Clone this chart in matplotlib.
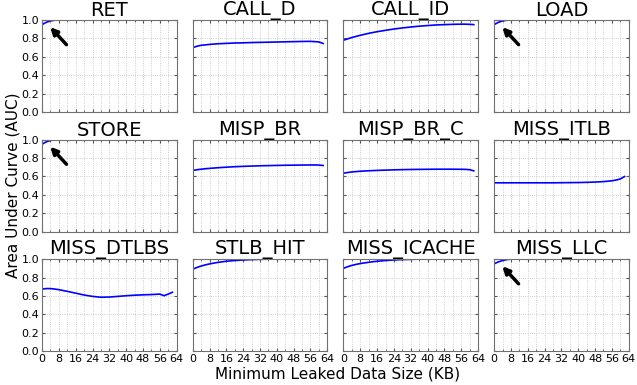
import matplotlib.pyplot as plt

x_kb = [0, 2, 4, 6, 8, 12, 16, 20, 24, 28, 32, 36, 40, 44, 48, 52, 56, 58, 60, 62]

titles = ['RET', 'CALL_D', 'CALL_ID', 'LOAD',
          'STORE', 'MISP_BR', 'MISP_BR_C', 'MISS_ITLB',
          'MISS_DTLBS', 'STLB_HIT', 'MISS_ICACHE', 'MISS_LLC']

ret = [0.95, 0.975, 0.99, 0.998, 1.0, 1.0, 1.0, 1.0, 1.0, 1.0, 1.0, 1.0, 1.0, 1.0, 1.0, 1.0, 1.0, 1.0, 1.0, 1.0]
call_d = [0.70, 0.715, 0.725, 0.73, 0.735, 0.742, 0.746, 0.75, 0.752, 0.755, 0.757, 0.759, 0.761, 0.763, 0.765, 0.767, 0.768, 0.765, 0.762, 0.745]
call_id = [0.78, 0.795, 0.81, 0.822, 0.834, 0.855, 0.873, 0.888, 0.902, 0.914, 0.924, 0.933, 0.94, 0.946, 0.95, 0.953, 0.955, 0.955, 0.953, 0.95]
load = [0.95, 0.975, 0.99, 0.998, 1.0, 1.0, 1.0, 1.0, 1.0, 1.0, 1.0, 1.0, 1.0, 1.0, 1.0, 1.0, 1.0, 1.0, 1.0, 1.0]
store = [0.95, 0.975, 0.99, 0.998, 1.0, 1.0, 1.0, 1.0, 1.0, 1.0, 1.0, 1.0, 1.0, 1.0, 1.0, 1.0, 1.0, 1.0, 1.0, 1.0]
misp_br = [0.665, 0.672, 0.678, 0.683, 0.687, 0.694, 0.70, 0.705, 0.709, 0.712, 0.715, 0.717, 0.719, 0.721, 0.722, 0.723, 0.724, 0.724, 0.723, 0.718]
misp_br_c = [0.635, 0.642, 0.648, 0.652, 0.656, 0.661, 0.665, 0.668, 0.671, 0.673, 0.675, 0.676, 0.677, 0.678, 0.678, 0.678, 0.677, 0.676, 0.673, 0.66]
miss_itlb = [0.53, 0.53, 0.53, 0.53, 0.53, 0.53, 0.53, 0.53, 0.53, 0.53, 0.531, 0.532, 0.533, 0.535, 0.538, 0.543, 0.552, 0.56, 0.572, 0.598]
miss_dtlbs = [0.675, 0.68, 0.68, 0.675, 0.668, 0.65, 0.63, 0.61, 0.595, 0.586, 0.588, 0.595, 0.602, 0.608, 0.612, 0.615, 0.62, 0.603, 0.62, 0.64]
stlb_hit = [0.89, 0.91, 0.925, 0.938, 0.948, 0.965, 0.977, 0.985, 0.991, 0.995, 0.998, 1.0, 1.0, 1.0, 1.0, 1.0, 1.0, 1.0, 1.0, 1.0]
miss_icache = [0.90, 0.918, 0.932, 0.943, 0.952, 0.966, 0.977, 0.985, 0.991, 0.995, 0.998, 1.0, 1.0, 1.0, 1.0, 1.0, 1.0, 1.0, 1.0, 1.0]
miss_llc = [0.95, 0.97, 0.985, 0.995, 1.0, 1.0, 1.0, 1.0, 1.0, 1.0, 1.0, 1.0, 1.0, 1.0, 1.0, 1.0, 1.0, 1.0, 1.0, 1.0]

series = [ret, call_d, call_id, load, store, misp_br, misp_br_c, miss_itlb,
          miss_dtlbs, stlb_hit, miss_icache, miss_llc]
# panels that get the arrow pointing at the start of the curve
arrow_panels = ['RET', 'LOAD', 'STORE', 'MISS_LLC']

fig, axes = plt.subplots(3, 4, figsize=(6.37, 3.85), dpi=100)
plt.subplots_adjust(left=0.066, right=0.987, bottom=0.088, top=0.948, wspace=0.12, hspace=0.30)

for i, ax in enumerate(axes.flat):
    ax.plot(x_kb, series[i], color='blue', lw=1.2)
    ax.set_title(titles[i], fontsize=14, pad=1)
    ax.set_xlim(0, 64)
    ax.set_ylim(0, 1.0)
    ax.set_xticks(range(0, 65, 8))
    ax.set_xticks(range(0, 65, 4), minor=True)
    ax.set_yticks([0, 0.2, 0.4, 0.6, 0.8, 1.0])
    ax.grid(True, which='both', axis='x', ls=':', color='#c0c0c0', lw=0.6)
    ax.grid(True, which='major', axis='y', ls=':', color='#c0c0c0', lw=0.6)
    ax.tick_params(which='both', direction='in', top=True, right=True, labelsize=8,
                   length=2.5, pad=2, color='#555555')
    ax.tick_params(which='minor', length=1.5)
    for sp in ax.spines.values():
        sp.set_color('#707070')
    if i % 4 != 0:
        ax.set_yticklabels([])
    if i < 8:
        ax.set_xticklabels([])
    if titles[i] in arrow_panels:
        ax.annotate('', xy=(3, 0.945), xytext=(12.5, 0.71),
                    arrowprops=dict(arrowstyle='-|>', color='black', lw=2.5, mutation_scale=10))

fig.text(0.008, 0.52, 'Area Under Curve (AUC)', rotation=90, va='center', ha='left', fontsize=11)
fig.text(0.53, 0.008, 'Minimum Leaked Data Size (KB)', ha='center', va='bottom', fontsize=11)

plt.savefig('out.png')
